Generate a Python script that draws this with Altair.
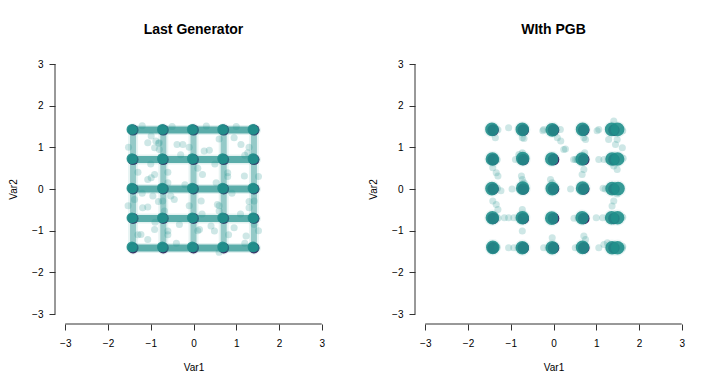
import altair as alt
import pandas as pd

# ---------------- data ----------------
grid = [-1.414, -0.707, 0.0, 0.707, 1.414]
ticks = [-3, -2, -1, 0, 1, 2, 3]
titles = ["Last Generator", "WIth PGB"]
axis_lo, axis_hi, lim = -3, 3, 3.24
band_lo, band_hi = -1.46, 1.46

# Left panel: generated points scattered between / beside the grid lines
left_sx = [-0.99, -0.88, -1.07, -0.91, -0.80, -0.80, -0.385, -0.25, 0.25, 0.37, 0.95, 1.11, 1.27,
           -0.91, -1.07, -0.99, -0.60, 0.21, 0.53, 0.80, 1.19,
           -1.38, -1.19, -0.95, -1.07, -0.72, -0.53, -0.45, -0.68, 0.18, 0.56, 0.60, 1.30, 1.42,
           -1.23, -1.07, -0.91, -0.33, -0.60, 0.41, 0.49, 0.14, 0.95, 1.23, 1.42,
           -1.20, -0.50, 0.30, 1.00, -1.00, -0.30, 0.50, 1.20, -1.20, -0.20, 0.90, -0.90, 0.20, 1.10,
           -0.40, 0.60, 1.20,
           -1.52, -1.30, -1.53, -1.30, -0.82, -0.60, -0.82, -0.60, -0.10, 0.10, -0.10, 0.10,
           0.60, 0.80, 0.60, 0.82, 1.30, 1.52, 1.30, 1.52]
left_sy = [1.27, 1.15, 1.11, 0.99, 0.95, 1.11, 1.07, 1.07, 0.91, 0.93, 1.23, 1.07, 0.87,
           0.35, 0.23, 0.27, 0.15, 0.35, 0.15, 0.39, 0.31,
           -0.25, -0.45, -0.17, -0.43, -0.29, -0.17, -0.25, -0.53, -0.29, -0.37, -0.53, -0.45, -0.29,
           -1.09, -1.21, -0.97, -0.85, -1.01, -0.89, -1.01, -0.97, -0.93, -1.13, -0.85,
           1.52, 1.50, 1.51, 1.50, 0.60, 0.82, 0.60, 0.81, -0.10, 0.10, -0.10, -0.80, -0.60, -0.60,
           -1.30, -1.52, -1.30,
           1.00, 0.40, -0.40, -1.10, 1.10, 0.40, -0.30, -1.10, 1.00, 0.50, -0.40, -1.00,
           1.20, 0.30, -0.40, -1.10, 1.00, 0.30, -0.30, -1.00]

# Left panel: dense teal blobs at grid nodes (columns / rows)
left_blob_x = [-1.44, -0.73, -0.03, 0.68, 1.39]
left_blob_y = [1.43, 0.73, 0.02, -0.69, -1.39]

# Right panel: dense clusters around nodes
right_blob_x = [-1.44, -0.73, -0.03, 0.68, 1.36, 1.50,
                -1.43, -0.72, -0.04, 0.67, 1.37, 1.50,
                -1.44, -0.72, -0.03, 0.68, 1.37, 1.51,
                -1.43, -0.73, -0.04, 0.67, 1.36, 1.50,
                -1.42, -0.73, -0.03, 0.68, 1.37, 1.50]
right_blob_y = [1.43, 1.43, 1.42, 1.43, 1.43, 1.43,
                0.72, 0.73, 0.72, 0.72, 0.72, 0.72,
                0.01, 0.02, 0.01, 0.02, 0.01, 0.01,
                -0.69, -0.69, -0.70, -0.69, -0.69, -0.69,
                -1.40, -1.41, -1.41, -1.40, -1.41, -1.41]

right_sx = [-1.05, -1.36, -0.73, -0.69, -0.23, -0.25, 0.09, 0.17, 0.24, 0.16, 0.28, 0.71, 0.75, 1.06, 1.02,
            1.41, 1.29, 1.49, 1.45, 1.61,
            0.51, 0.47, 0.55, 1.06, 1.18, 0.73, 0.71, 0.67, -1.42, -1.34, -1.30, -0.73, -0.81, -0.89, 1.41, 1.49,
            -0.75, -0.73, -0.69, -0.07, -0.03, 0.40, -0.97, -1.23, 1.21, 1.16, 1.49, 1.41, 1.37,
            -1.42, -1.34, -1.30, -0.73, -0.69, -1.15, -1.05, -0.93, -0.11, 1.00, 1.15, 0.48,
            -0.73, -0.03, 0.71, 0.75, -1.05, -0.93, 1.06, 1.18, 1.26, 0.51, -0.23, 1.62,
            -1.30, -1.32, -1.31, -1.30, -1.32, 1.62, 1.63, 1.62, 1.61]
right_sy = [1.47, 1.23, 1.23, 1.21, 1.43, 1.40, 1.23, 1.15, 0.95, 1.43, 0.96, 1.23, 1.19, 1.43, 1.40,
            1.63, 1.19, 1.19, 1.07, 0.99,
            0.71, 0.71, 0.71, 0.71, 0.71, 0.87, 0.47, 0.35, 0.51, 0.39, 0.31, 0.87, 0.83, 0.71, 0.55, 0.47,
            0.31, 0.23, 0.15, 0.23, 0.15, 0.00, 0.00, -0.04, 0.00, 0.02, -0.12, -0.29, -0.41,
            -0.29, -0.37, -0.49, -0.49, -0.61, -0.69, -0.69, -0.69, -0.69, -0.69, -0.69, -0.70,
            -1.01, -1.17, -1.13, -1.21, -1.41, -1.41, -1.41, -1.33, -1.29, -1.41, -1.41, -1.38,
            1.42, 0.70, 0.02, -0.70, -1.40, 1.40, 0.74, -0.68, -1.42]

TEAL = "#21908C"
PURPLE = "#440154"
FONT = "Liberation Sans"

# ---------------- helpers ----------------
sc = alt.Scale(domain=[-lim, lim], nice=False, zero=False)
ax_x = alt.Axis(values=ticks, title="Var1", grid=False, domain=False, tickSize=6,
                labelPadding=8, titlePadding=14, format="d", labelFlush=False)
ax_y = alt.Axis(values=ticks, title="Var2", grid=False, domain=False, tickSize=6,
                labelPadding=6, titlePadding=13, format="d", labelFlush=False)


def X(f):
    return alt.X(f, type="quantitative", scale=sc, axis=ax_x)


def Y(f):
    return alt.Y(f, type="quantitative", scale=sc, axis=ax_y)


nodes = pd.DataFrame([{"x": gx, "y": gy} for gy in grid for gx in grid])
yaxis_line = pd.DataFrame({"x": [-lim], "y": [axis_lo], "y2": [axis_hi]})
xaxis_line = pd.DataFrame({"y": [-lim], "x": [axis_lo], "x2": [axis_hi]})


def axis_layers():
    a = alt.Chart(yaxis_line).mark_rule(color="#333", strokeWidth=1).encode(
        x=X("x"), y=Y("y"), y2="y2")
    b = alt.Chart(xaxis_line).mark_rule(color="#333", strokeWidth=1).encode(
        y=Y("y"), x=X("x"), x2="x2")
    return [a, b]


def node_layer(size):
    return alt.Chart(nodes).mark_circle(color=PURPLE, opacity=1, size=size).encode(x=X("x"), y=Y("y"))


def pts(xs, ys, size, opacity):
    df = pd.DataFrame({"x": xs, "y": ys})
    return alt.Chart(df).mark_circle(color=TEAL, size=size, opacity=opacity).encode(x=X("x"), y=Y("y"))


title_kw = dict(fontSize=14, fontWeight="bold", font=FONT, anchor="middle", offset=17, color="black")

# ---------------- left panel ----------------
hseg = pd.DataFrame({"y": grid, "x": [band_lo] * 5, "x2": [band_hi] * 5})
vseg = pd.DataFrame({"x": grid, "y": [band_lo] * 5, "y2": [band_hi] * 5})

left_layers = axis_layers() + [
    node_layer(120),
    alt.Chart(hseg).mark_rule(color=TEAL, strokeWidth=10, opacity=0.12, strokeCap="round").encode(
        x=X("x"), x2="x2", y=Y("y")),
    alt.Chart(hseg).mark_rule(color=TEAL, strokeWidth=7, opacity=0.7, strokeCap="round").encode(
        x=X("x"), x2="x2", y=Y("y")),
    alt.Chart(vseg).mark_rule(color=TEAL, strokeWidth=10, opacity=0.1, strokeCap="round").encode(
        y=Y("y"), y2="y2", x=X("x")),
    alt.Chart(vseg).mark_rule(color=TEAL, strokeWidth=6, opacity=0.42, strokeCap="round").encode(
        y=Y("y"), y2="y2", x=X("x")),
    pts([bx for by in left_blob_y for bx in left_blob_x],
        [by for by in left_blob_y for bx in left_blob_x], 115, 0.9),
    pts(left_sx, left_sy, 50, 0.22),
]
left = alt.layer(*left_layers).properties(
    width=277, height=270, title=alt.TitleParams(titles[0], **title_kw))

# ---------------- right panel ----------------
right_layers = axis_layers() + [
    node_layer(135),
    pts(right_blob_x, right_blob_y, 270, 0.08),
    pts(right_blob_x, right_blob_y, 185, 0.9),
    pts(right_sx, right_sy, 50, 0.22),
]
right = alt.layer(*right_layers).properties(
    width=277, height=270, title=alt.TitleParams(titles[1], **title_kw))

chart = alt.hconcat(left, right, spacing=36).properties(
    padding={"left": 0, "top": 15, "right": 5, "bottom": 5}
).configure_view(stroke=None).configure_axis(
    labelFont=FONT, titleFont=FONT, labelFontSize=10, titleFontSize=10,
    labelColor="black", titleColor="black", titleFontWeight="normal",
    tickColor="#333", tickWidth=1
)

chart.save("out.html", embed_options={"renderer": "svg", "actions": False})
